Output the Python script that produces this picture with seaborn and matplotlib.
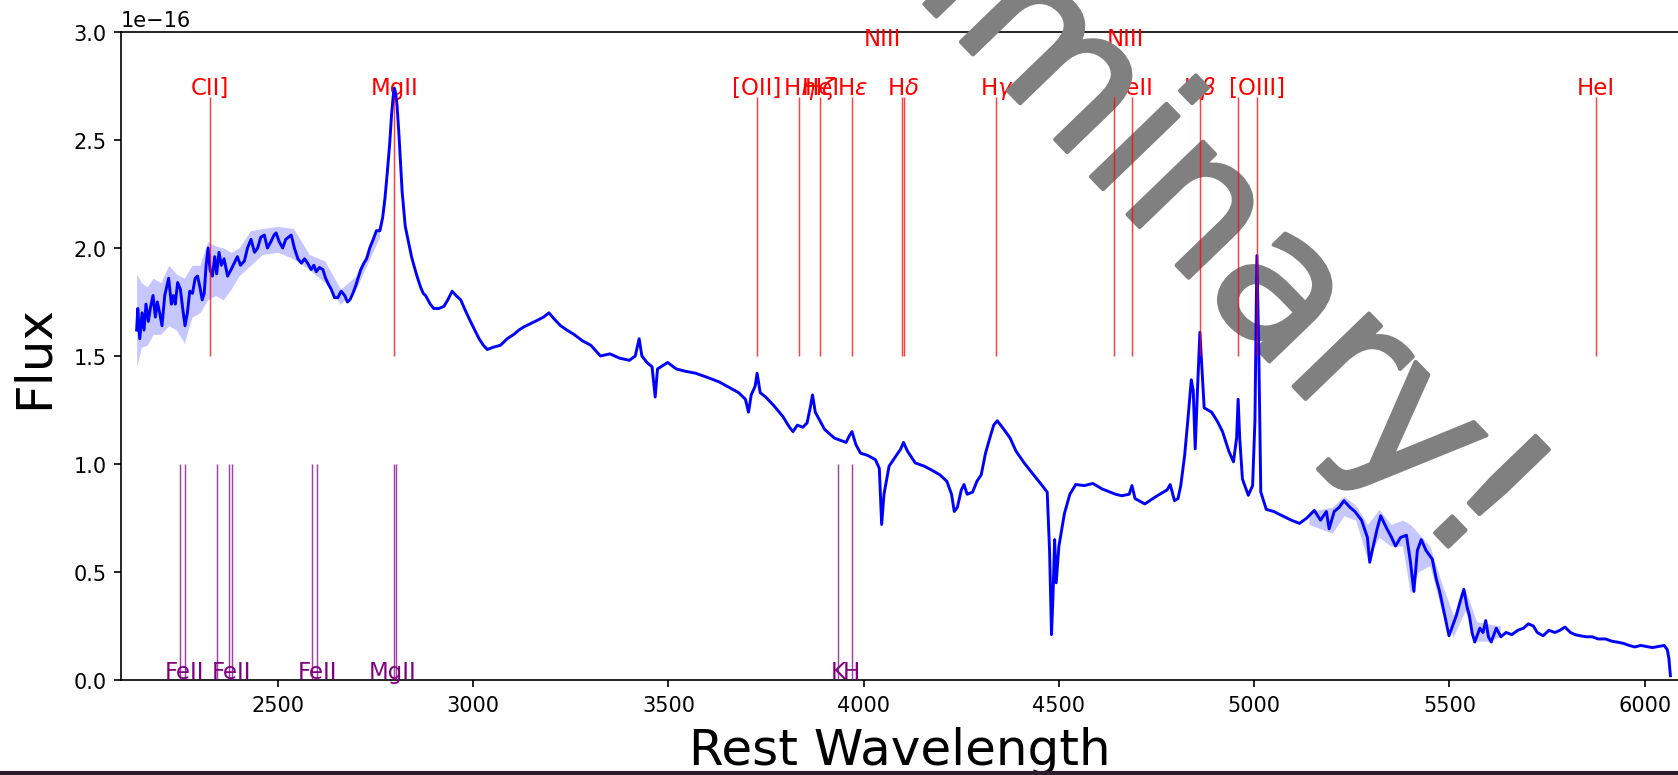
import numpy as np
import matplotlib
matplotlib.use("Agg")
import matplotlib.pyplot as plt
import matplotlib.patheffects as pe
from matplotlib.patches import Rectangle
import seaborn as sns

# ---------------- data (flux in units of 1e-16) ----------------
wave = [2138, 2141, 2146, 2152, 2157, 2162, 2168, 2173, 2180, 2186, 2191, 2197, 2203, 2210, 2215, 2220,
        2227, 2232, 2237, 2243, 2250, 2256, 2262, 2268, 2274, 2281, 2288, 2294, 2300, 2306, 2311, 2316,
        2321, 2326, 2332, 2338, 2343, 2349, 2355, 2362, 2371, 2380, 2388, 2396, 2404, 2414, 2422, 2431,
        2440, 2448, 2456, 2465, 2473, 2482, 2490, 2495, 2503, 2512, 2520, 2527, 2534, 2542, 2551, 2560,
        2568, 2576, 2585, 2592, 2598, 2606, 2615, 2622, 2630, 2636, 2645, 2653, 2662, 2671, 2678, 2684,
        2692, 2700, 2705, 2712, 2720, 2727, 2735, 2744, 2752, 2761, 2768, 2774, 2780, 2786, 2791, 2795,
        2798, 2801, 2805, 2810, 2818, 2826, 2835, 2842, 2848, 2856, 2865, 2872, 2878, 2890, 2899, 2912,
        2925, 2935, 2946, 2956, 2968, 2980, 2993, 3004, 3015, 3026, 3036, 3050, 3070, 3087, 3104, 3117,
        3130, 3147, 3164, 3180, 3194, 3208, 3224, 3240, 3258, 3280, 3301, 3326, 3350, 3375, 3400, 3415,
        3425, 3432, 3445, 3458, 3466, 3472, 3498, 3520, 3542, 3570, 3601, 3630, 3660, 3680, 3697, 3705,
        3712, 3722, 3727, 3735, 3749, 3770, 3793, 3810, 3819, 3830, 3844, 3855, 3863, 3869, 3876, 3888,
        3900, 3925, 3940, 3955, 3963, 3970, 3980, 3992, 4010, 4030, 4040, 4046, 4052, 4065, 4080, 4095,
        4102, 4112, 4132, 4155, 4176, 4195, 4213, 4225, 4232, 4240, 4250, 4257, 4265, 4279, 4290, 4301,
        4312, 4323, 4333, 4342, 4355, 4375, 4390, 4411, 4435, 4455, 4470, 4476, 4481, 4485, 4489, 4493,
        4500, 4514, 4528, 4543, 4565, 4587, 4610, 4631, 4645, 4661, 4680, 4687, 4695, 4705, 4720, 4749,
        4777, 4785, 4796, 4805, 4812, 4822, 4830, 4839, 4844, 4849, 4855, 4861, 4866, 4872, 4891, 4905,
        4919, 4935, 4947, 4955, 4959, 4963, 4970, 4985, 4996, 5002, 5007, 5012, 5017, 5031, 5050, 5078,
        5095, 5116, 5135, 5154, 5170, 5185, 5192, 5205, 5218, 5230, 5245, 5258, 5275, 5290, 5296, 5305,
        5315, 5324, 5340, 5352, 5362, 5375, 5390, 5400, 5409, 5418, 5428, 5440, 5456, 5466, 5475, 5488,
        5499, 5510, 5518, 5527, 5537, 5545, 5551, 5558, 5565, 5578, 5586, 5593, 5600, 5607, 5620, 5632,
        5645, 5660, 5675, 5690, 5702, 5715, 5725, 5740, 5755, 5770, 5783, 5796, 5810, 5822, 5834, 5850,
        5866, 5881, 5900, 5915, 5928, 5945, 5960, 5975, 5990, 6005, 6020, 6035, 6050, 6058, 6062, 6066]
flux = [1.62, 1.72, 1.58, 1.70, 1.62, 1.74, 1.66, 1.72, 1.78, 1.68, 1.75, 1.70, 1.64, 1.78, 1.82, 1.86,
        1.74, 1.78, 1.74, 1.84, 1.81, 1.72, 1.64, 1.70, 1.80, 1.79, 1.86, 1.87, 1.82, 1.76, 1.79, 1.92,
        2.00, 1.90, 1.87, 1.96, 1.88, 1.98, 1.92, 1.95, 1.87, 1.90, 1.93, 1.96, 1.92, 1.94, 2.00, 2.04,
        1.98, 2.00, 2.05, 2.06, 2.00, 2.03, 2.06, 2.07, 2.03, 2.00, 2.04, 2.05, 2.06, 2.00, 1.95, 1.93,
        1.95, 1.93, 1.90, 1.92, 1.89, 1.91, 1.90, 1.86, 1.83, 1.81, 1.77, 1.77, 1.80, 1.78, 1.75, 1.76,
        1.79, 1.83, 1.86, 1.90, 1.93, 1.95, 2.00, 2.04, 2.08, 2.08, 2.14, 2.23, 2.35, 2.48, 2.62, 2.70,
        2.74, 2.72, 2.66, 2.52, 2.26, 2.10, 2.02, 1.96, 1.92, 1.87, 1.82, 1.79, 1.78, 1.74, 1.72, 1.72,
        1.73, 1.76, 1.80, 1.78, 1.76, 1.71, 1.66, 1.62, 1.58, 1.55, 1.53, 1.54, 1.55, 1.58, 1.60, 1.62,
        1.635, 1.65, 1.665, 1.68, 1.70, 1.67, 1.64, 1.62, 1.60, 1.57, 1.55, 1.50, 1.51, 1.49, 1.48, 1.50,
        1.58, 1.50, 1.47, 1.45, 1.31, 1.44, 1.47, 1.44, 1.43, 1.42, 1.40, 1.38, 1.35, 1.33, 1.30, 1.24,
        1.32, 1.36, 1.42, 1.33, 1.31, 1.27, 1.22, 1.17, 1.15, 1.18, 1.17, 1.19, 1.26, 1.32, 1.24, 1.20,
        1.16, 1.12, 1.11, 1.10, 1.13, 1.15, 1.09, 1.05, 1.04, 1.02, 0.98, 0.72, 0.86, 0.99, 1.03, 1.07,
        1.10, 1.06, 1.005, 0.99, 0.97, 0.95, 0.92, 0.86, 0.78, 0.80, 0.88, 0.905, 0.86, 0.87, 0.92, 0.95,
        1.05, 1.12, 1.18, 1.20, 1.17, 1.12, 1.06, 1.005, 0.95, 0.905, 0.87, 0.60, 0.21, 0.40, 0.65, 0.45,
        0.62, 0.77, 0.86, 0.905, 0.90, 0.91, 0.885, 0.87, 0.86, 0.853, 0.86, 0.90, 0.84, 0.83, 0.815, 0.85,
        0.88, 0.905, 0.83, 0.84, 0.90, 1.04, 1.20, 1.39, 1.34, 1.07, 1.35, 1.61, 1.45, 1.26, 1.24, 1.20,
        1.15, 1.06, 1.01, 1.12, 1.30, 1.12, 0.93, 0.855, 0.90, 1.20, 1.965, 1.50, 0.87, 0.79, 0.78, 0.755,
        0.74, 0.725, 0.75, 0.785, 0.74, 0.78, 0.70, 0.78, 0.80, 0.83, 0.80, 0.78, 0.74, 0.66, 0.545, 0.62,
        0.70, 0.76, 0.70, 0.66, 0.62, 0.66, 0.67, 0.55, 0.41, 0.60, 0.65, 0.60, 0.56, 0.47, 0.41, 0.30,
        0.205, 0.26, 0.30, 0.36, 0.42, 0.34, 0.30, 0.22, 0.176, 0.24, 0.22, 0.275, 0.20, 0.176, 0.24, 0.20,
        0.22, 0.21, 0.23, 0.24, 0.26, 0.25, 0.22, 0.205, 0.23, 0.22, 0.23, 0.245, 0.22, 0.21, 0.205, 0.20,
        0.20, 0.19, 0.19, 0.18, 0.176, 0.17, 0.16, 0.153, 0.16, 0.155, 0.15, 0.155, 0.16, 0.14, 0.10, 0.02]

# uncertainty envelope
band_wave_a = [2138, 2150, 2165, 2180, 2200, 2220, 2240, 2260, 2280, 2300, 2320, 2340, 2360, 2380,
               2400, 2430, 2460, 2500, 2540, 2580, 2620, 2660, 2700, 2760]
band_lo_a = [1.45, 1.54, 1.55, 1.60, 1.60, 1.64, 1.62, 1.56, 1.68, 1.70, 1.76, 1.78, 1.76, 1.81,
             1.87, 1.92, 1.97, 1.98, 1.95, 1.90, 1.84, 1.74, 1.81, 2.05]
band_hi_a = [1.88, 1.84, 1.82, 1.86, 1.84, 1.92, 1.88, 1.86, 1.92, 1.92, 2.03, 2.01, 2.00, 1.98,
             2.00, 2.08, 2.09, 2.10, 2.09, 1.97, 1.94, 1.81, 1.87, 2.11]
band_wave_b = [5140, 5170, 5200, 5230, 5260, 5290, 5320, 5350, 5380, 5400, 5420, 5450, 5480, 5510,
               5540, 5570, 5600, 5630]
band_lo_b = [0.72, 0.70, 0.68, 0.76, 0.74, 0.56, 0.66, 0.62, 0.62, 0.40, 0.50, 0.53, 0.32, 0.20,
             0.32, 0.18, 0.18, 0.20]
band_hi_b = [0.78, 0.79, 0.80, 0.85, 0.81, 0.72, 0.79, 0.72, 0.74, 0.72, 0.68, 0.62, 0.45, 0.30,
             0.42, 0.27, 0.26, 0.25]
band_wave_c = [6058, 6062, 6066]
band_lo_c = [0.12, 0.06, 0.0]
band_hi_c = [0.16, 0.13, 0.10]

# emission lines (red)
em_waves = [2326, 2798, 3727, 3835, 3889, 3970, 4097, 4102, 4340, 4640, 4686, 4861, 4959, 5007, 5876]
em_label_waves = [2326, 2798, 3727, 3835, 3889, 3889, 3970, 4102, 4340, 4686, 4861, 5007, 5876]
em_labels = ["CII]", "MgII", "[OII]", r"H$\eta$", r"H$\zeta$", "HeI", r"H$\epsilon$", r"H$\delta$",
             r"H$\gamma$", "HeII", r"H$\beta$", "[OIII]", "HeI"]
em_upper_waves = [4047, 4671]
em_upper_labels = ["NIII", "NIII"]

# absorption lines (purple)
abs_waves = [2249.88, 2260.78, 2344.21, 2374.46, 2382.77, 2586.65, 2600.17, 2796.35, 2803.53,
             3934.78, 3969.59]
abs_label_waves = [2260.78, 2380.0, 2600.17, 2793.0, 3934.78, 3969.59]
abs_labels = ["FeII", "FeII", "FeII", "MgII", "K", "H"]

# ---------------- figure ----------------
W, H, DPI = 1678, 776, 150
fig = plt.figure(figsize=(W / DPI, H / DPI), dpi=DPI, facecolor="white")
ax = fig.add_axes([121 / W, (H - 681) / H, 1558 / W, (681 - 33) / H])

s = 1e-16
for bw, blo, bhi in [(band_wave_a, band_lo_a, band_hi_a),
                     (band_wave_b, band_lo_b, band_hi_b),
                     (band_wave_c, band_lo_c, band_hi_c)]:
    ax.fill_between(np.array(bw), np.array(blo) * s, np.array(bhi) * s,
                    color="blue", alpha=0.22, lw=0, zorder=3.8)

sns.lineplot(x=np.array(wave), y=np.array(flux) * s, ax=ax, color="blue", linewidth=1.4,
             estimator=None, sort=False, zorder=4)

ax.vlines(em_waves, 1.5 * s, 2.7 * s, color="red", linewidth=0.7, alpha=0.75, zorder=4)
ax.vlines(abs_waves, 0.0, 1.0 * s, color="purple", linewidth=0.7, alpha=0.75, zorder=4)

for w, lab in zip(em_label_waves, em_labels):
    ax.text(w, 2.715 * s, lab, color="red", fontsize=11, ha="center", va="baseline", zorder=3)
for w, lab in zip(em_upper_waves, em_upper_labels):
    ax.text(w, 2.94 * s, lab, color="red", fontsize=11, ha="center", va="baseline", zorder=3)
for w, lab in zip(abs_label_waves, abs_labels):
    ax.text(w, 0.01 * s, lab, color="purple", fontsize=11, ha="center", va="baseline", zorder=3)

ax.set_xlim(2098, 6088)
ax.set_ylim(0, 3.0 * s)
ax.set_xticks([2500, 3000, 3500, 4000, 4500, 5000, 5500, 6000])
ax.set_yticks(np.arange(0, 3.01, 0.5) * s)
ax.set_xlabel("Rest Wavelength", fontsize=24, labelpad=5.5)
ax.set_ylabel("Flux", fontsize=24, labelpad=7.5)
ax.tick_params(labelsize=10)

# watermark
ax.text(1468 / W, 1 - 568 / H, "Preliminary!", transform=fig.transFigure, fontsize=92,
        color="gray", rotation=-46, rotation_mode="anchor", ha="right", va="baseline",
        zorder=3.5, clip_on=False,
        path_effects=[pe.Stroke(linewidth=2, foreground="gray", joinstyle="round", capstyle="round"),
                      pe.Normal()])

fig.add_artist(Rectangle((0, 0), 1, 3 / H, transform=fig.transFigure, color="#2d1b2e",
                         zorder=10))

fig.savefig("out.png", dpi=DPI)
